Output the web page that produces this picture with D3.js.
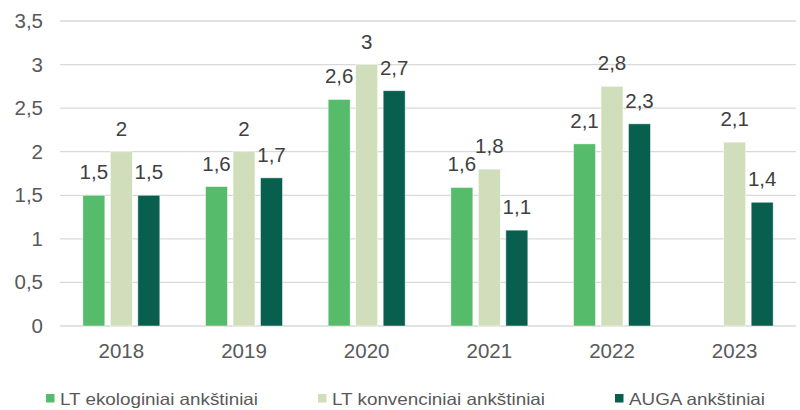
<!DOCTYPE html>
<html><head><meta charset="utf-8">
<script src="https://cdn.jsdelivr.net/npm/d3@7"></script>
<style>body{margin:0;background:#fff}</style>
</head><body>
<svg id="c" width="800" height="410"></svg>
<script>
const years = ["2018","2019","2020","2021","2022","2023"];
const seriesNames = ["LT ekologiniai ankštiniai","LT konvenciniai ankštiniai","AUGA ankštiniai"];
const ekologiniai = [1.5, 1.6, 2.6, 1.59, 2.09, null];
const konvenciniai = [2.0, 2.0, 3.0, 1.8, 2.75, 2.11];
const auga = [1.5, 1.7, 2.7, 1.1, 2.32, 1.42];
const yTicks = [0, 0.5, 1, 1.5, 2, 2.5, 3, 3.5];
const colors = ["#56BB6A", "#D0DEBB", "#085F4D"];

const allSeries = [ekologiniai, konvenciniai, auga];
const svg = d3.select("#c");
const fmt = v => String(v).replace(".", ",");
const lbl = v => fmt(Math.round(v * 10) / 10);
const FONT = "Liberation Sans, Arial, sans-serif";

const y = d3.scaleLinear().domain([0, 3.5]).range([326, 21]);
const x = d3.scaleBand().domain(years).range([60, 796]);
const groupW = 77;
const xs = d3.scaleBand().domain(d3.range(3)).range([0, groupW]).paddingInner(0.2);
const off = (x.bandwidth() - groupW) / 2;

// grid
svg.append("g").selectAll("line").data(yTicks).join("line")
  .attr("x1", 60).attr("x2", 796)
  .attr("y1", d => y(d)).attr("y2", d => y(d))
  .attr("stroke", "#d9d9d9").attr("stroke-width", 1.3);

// y labels
svg.append("g").selectAll("text").data(yTicks).join("text")
  .attr("x", 43).attr("y", d => y(d) + 7)
  .attr("text-anchor", "end")
  .attr("font-family", FONT)
  .attr("font-size", 20.5).attr("fill", "#595959")
  .text(d => fmt(d));

// bars
const g = svg.append("g");
allSeries.forEach((vals, si) => {
  const data = years.map((yr, i) => ({yr, v: vals[i]})).filter(d => d.v != null);
  g.append("g").selectAll("rect").data(data).join("rect")
    .attr("x", d => x(d.yr) + off + xs(si))
    .attr("width", xs.bandwidth())
    .attr("y", d => y(d.v))
    .attr("height", d => y(0) - y(d.v))
    .attr("fill", colors[si])
    .attr("stroke", "#ffffff").attr("stroke-opacity", 0.6).attr("stroke-width", 0.8);
  g.append("g").selectAll("text").data(data).join("text")
    .attr("x", d => x(d.yr) + off + xs(si) + xs.bandwidth() / 2)
    .attr("y", d => y(d.v) - 16)
    .attr("text-anchor", "middle")
    .attr("font-family", FONT)
    .attr("font-size", 20.5).attr("fill", "#404040")
    .text(d => lbl(d.v));
});

// x labels
svg.append("g").selectAll("text").data(years).join("text")
  .attr("x", d => x(d) + x.bandwidth() / 2).attr("y", 358)
  .attr("text-anchor", "middle")
  .attr("font-family", FONT)
  .attr("font-size", 20.5).attr("fill", "#595959")
  .text(d => d);

// legend
const legX = [46, 318, 615];
const legW = [198, 213, 136];
const leg = svg.append("g").selectAll("g").data(seriesNames).join("g")
  .attr("transform", (d, i) => `translate(${legX[i]},0)`);
leg.append("rect").attr("x", 0).attr("y", 394).attr("width", 8.5).attr("height", 8.5)
  .attr("fill", (d, i) => colors[i]);
leg.append("text").attr("x", 14).attr("y", 405)
  .attr("font-family", FONT)
  .attr("font-size", 16.5).attr("fill", "#595959")
  .attr("textLength", (d, i) => legW[i])
  .attr("lengthAdjust", "spacingAndGlyphs")
  .text(d => d);
</script>
</body></html>
